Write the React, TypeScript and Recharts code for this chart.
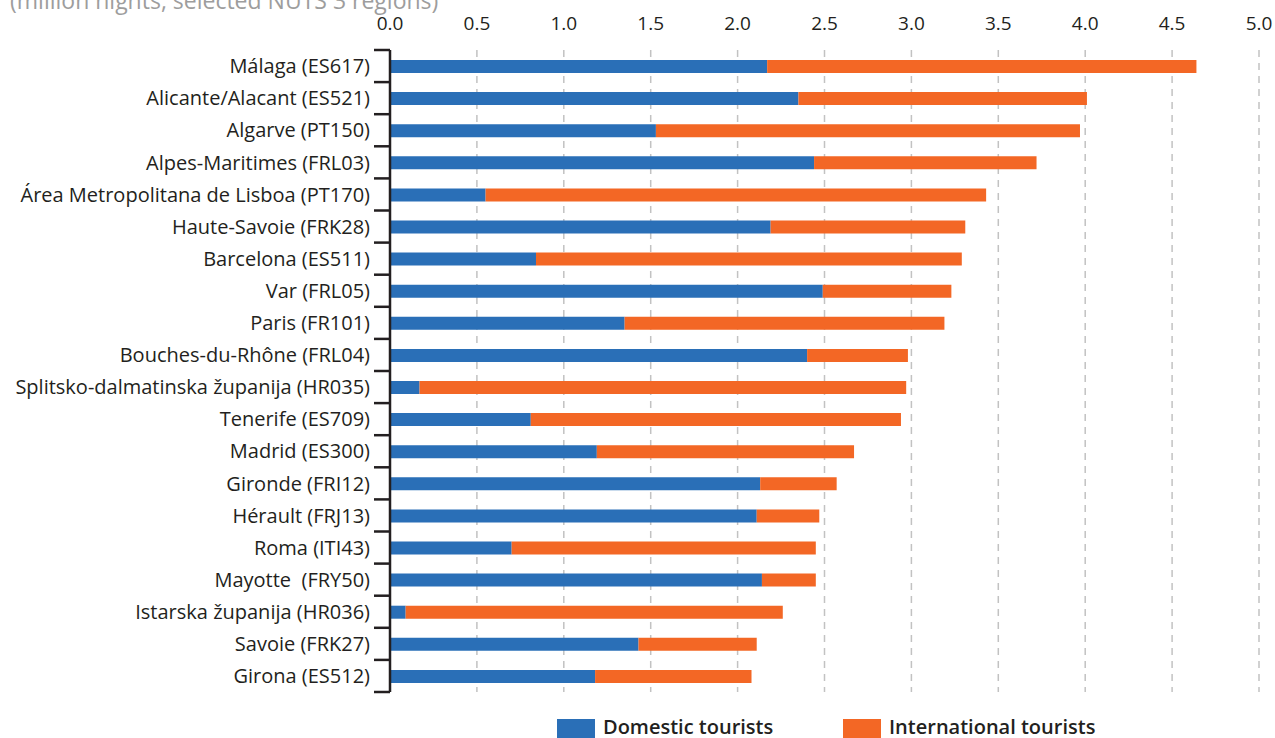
import { BarChart, Bar, XAxis, YAxis, CartesianGrid } from "recharts";

const regions = [
  "Málaga (ES617)",
  "Alicante/Alacant (ES521)",
  "Algarve (PT150)",
  "Alpes-Maritimes (FRL03)",
  "Área Metropolitana de Lisboa (PT170)",
  "Haute-Savoie (FRK28)",
  "Barcelona (ES511)",
  "Var (FRL05)",
  "Paris (FR101)",
  "Bouches-du-Rhône (FRL04)",
  "Splitsko-dalmatinska županija (HR035)",
  "Tenerife (ES709)",
  "Madrid (ES300)",
  "Gironde (FRI12)",
  "Hérault (FRJ13)",
  "Roma (ITI43)",
  "Mayotte  (FRY50)",
  "Istarska županija (HR036)",
  "Savoie (FRK27)",
  "Girona (ES512)",
];

// million nights
const domestic = [
  2.17, 2.35, 1.53, 2.44, 0.55, 2.19, 0.84, 2.49, 1.35, 2.4,
  0.17, 0.81, 1.19, 2.13, 2.11, 0.7, 2.14, 0.09, 1.43, 1.18,
];
const international = [
  2.47, 1.66, 2.44, 1.28, 2.88, 1.12, 2.45, 0.74, 1.84, 0.58,
  2.8, 2.13, 1.48, 0.44, 0.36, 1.75, 0.31, 2.17, 0.68, 0.9,
];

const xTicks = [0, 0.5, 1, 1.5, 2, 2.5, 3, 3.5, 4, 4.5, 5];

const data = regions.map((name, i) => ({
  name,
  domestic: domestic[i],
  international: international[i],
}));

const BLUE = "#2a6fb7";
const ORANGE = "#f36725";
const INK = "#231f20";
const FONT = "'Open Sans', sans-serif";

const TOP = 20;
const XAXIS_H = 30;
const CHART_H = 700;
const BOTTOM = 8;
const plotHeight = CHART_H - TOP - XAXIS_H - BOTTOM;
const band = plotHeight / regions.length;

const RegionTick = (props: any) => {
  const { x, y, payload, index } = props;
  const half = band / 2;
  return (
    <g>
      <line x1={x - 16} x2={x} y1={y - half} y2={y - half} stroke={INK} strokeWidth={2.5} />
      {index === regions.length - 1 && (
        <line x1={x - 16} x2={x} y1={y + half} y2={y + half} stroke={INK} strokeWidth={2.5} />
      )}
      <text
        x={x - 20}
        y={y}
        dy="0.36em"
        textAnchor="end"
        fill={INK}
        fontSize={20}
        fontFamily={FONT}
        style={{ whiteSpace: "pre" }}
      >
        {payload.value}
      </text>
    </g>
  );
};

const LegendItem = ({ left, color, label }: { left: number; color: string; label: string }) => (
  <>
    <div style={{ position: "absolute", left, top: 719, width: 38, height: 22, background: color }} />
    <div
      style={{
        position: "absolute",
        left: left + 46,
        top: 717,
        fontFamily: FONT,
        fontSize: 20,
        fontWeight: 600,
        lineHeight: "20px",
        color: INK,
        whiteSpace: "nowrap",
      }}
    >
      {label}
    </div>
  </>
);

export default function App() {
  return (
    <div
      style={{
        position: "absolute",
        top: 0,
        left: 0,
        width: 1275,
        height: 738,
        overflow: "hidden",
        background: "#fff",
      }}
    >
      <div
        style={{
          position: "absolute",
          left: 10,
          top: -10,
          fontFamily: FONT,
          fontSize: 23,
          lineHeight: "20px",
          color: "#9d9d9d",
          whiteSpace: "nowrap",
        }}
      >
        (million nights, selected NUTS 3 regions)
      </div>
      <BarChart
        width={1275}
        height={CHART_H}
        data={data}
        layout="vertical"
        margin={{ top: TOP, right: 16, left: 0, bottom: BOTTOM }}
      >
        <CartesianGrid
          horizontal={false}
          vertical={true}
          stroke="#c2c2c2"
          strokeWidth={1.5}
          strokeDasharray="7 6"
        />
        <XAxis
          type="number"
          orientation="top"
          domain={[0, 5]}
          ticks={xTicks}
          height={XAXIS_H}
          axisLine={false}
          tickLine={false}
          tickMargin={14}
          tickFormatter={(v: number) => v.toFixed(1)}
          tick={{ fill: INK, fontSize: 19, fontFamily: FONT }}
        />
        <YAxis
          type="category"
          dataKey="name"
          width={390}
          interval={0}
          tickLine={false}
          tickSize={0}
          tickMargin={0}
          axisLine={{ stroke: INK, strokeWidth: 2.5 }}
          tick={<RegionTick />}
        />
        <Bar dataKey="domestic" stackId="a" fill={BLUE} barSize={13} isAnimationActive={false} />
        <Bar dataKey="international" stackId="a" fill={ORANGE} barSize={13} isAnimationActive={false} />
      </BarChart>
      <LegendItem left={557} color={BLUE} label="Domestic tourists" />
      <LegendItem left={843} color={ORANGE} label="International tourists" />
    </div>
  );
}
